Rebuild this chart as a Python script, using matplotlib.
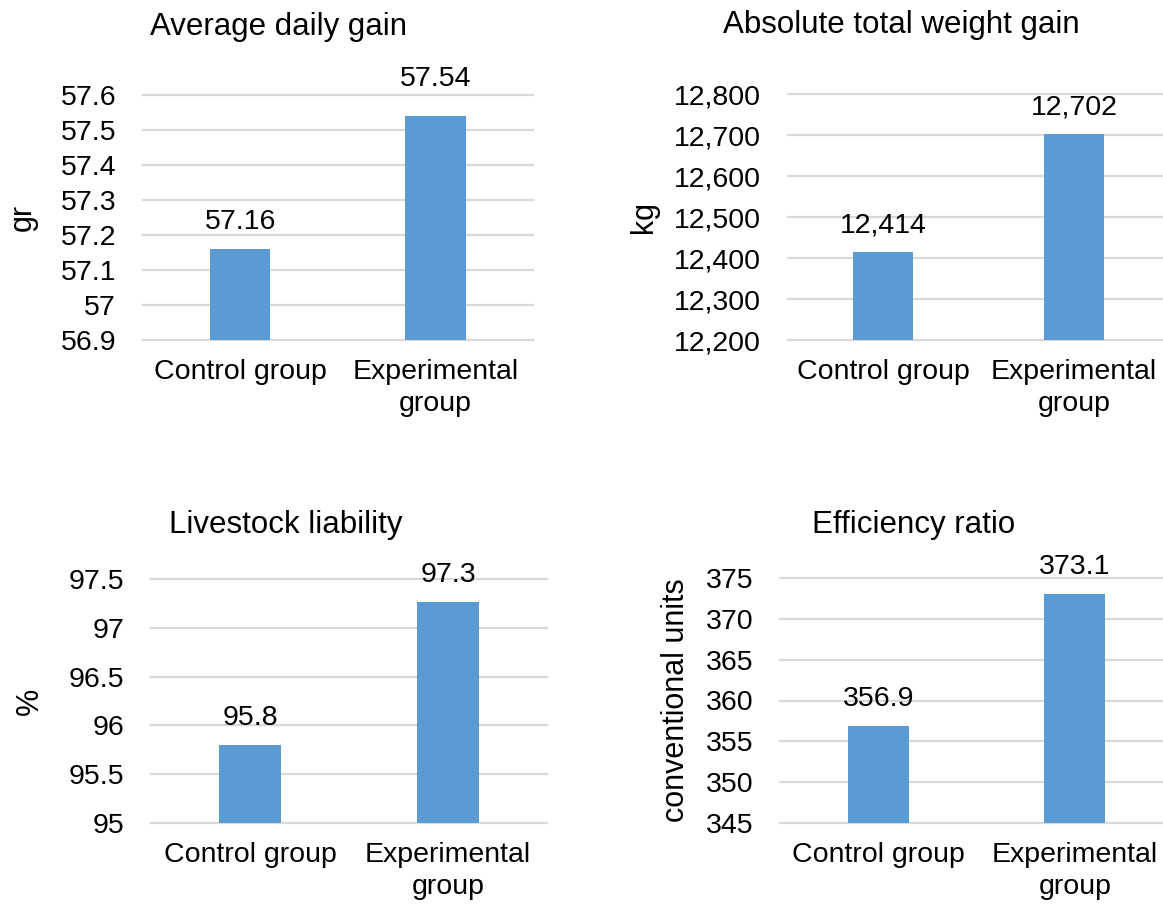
import matplotlib
matplotlib.use('Agg')
import matplotlib.pyplot as plt
from matplotlib.ticker import FuncFormatter

plt.rcParams['font.family'] = ['Liberation Sans', 'DejaVu Sans']

W, H = 1163, 907

groups = ['Control group', 'Experimental\ngroup']
titles = ['Average daily gain', 'Absolute total weight gain',
          'Livestock liability', 'Efficiency ratio']
ylabels = ['gr', 'kg', '%', 'conventional units']
control = [57.16, 12414, 95.8, 356.9]
experimental = [57.54, 12702, 97.26, 373.1]
value_labels = [['57.16', '57.54'], ['12,414', '12,702'],
                ['95.8', '97.3'], ['356.9', '373.1']]
y_min = [56.9, 12200, 95, 345]
y_max = [57.6, 12800, 97.5, 375]
y_step = [0.1, 100, 0.5, 5]

# panel boxes in pixels: left, right, top, bottom
boxes = [(142.5, 533, 94.7, 340), (787.5, 1169.5, 94.3, 340),
         (151, 547, 578.7, 823.3), (780, 1173, 578, 823)]
title_pos = [(278.6, 35), (901.5, 33.3), (286, 533.3), (913.6, 533.3)]
ylabel_x = [31, 652, 37.5, 684]

bar_color = '#5B9BD5'
grid_color = '#D9D9D9'

fig = plt.figure(figsize=(W / 100, H / 100), dpi=100)

for i in range(4):
    l, r, t, b = boxes[i]
    ax = fig.add_axes([l / W, 1 - b / H, (r - l) / W, (b - t) / H])
    vals = [control[i], experimental[i]]
    bars = ax.bar([0, 1], vals, width=0.31, color=bar_color, zorder=3)
    ax.set_xlim(-0.5, 1.5)
    ax.set_ylim(y_min[i], y_max[i])
    n = int(round((y_max[i] - y_min[i]) / y_step[i]))
    ax.set_yticks([y_min[i] + k * y_step[i] for k in range(n + 1)])
    if i == 1:
        ax.yaxis.set_major_formatter(FuncFormatter(lambda v, p: f'{v:,.0f}'))
    else:
        ax.yaxis.set_major_formatter(FuncFormatter(lambda v, p: f'{round(v, 2):g}'))
    ax.set_xticks([0, 1])
    ax.set_xticklabels(groups, fontsize=20.5, linespacing=1.3)
    ax.tick_params(axis='y', length=0, pad=19, labelsize=20.5)
    ax.tick_params(axis='x', length=0, pad=13.5)
    for s in ax.spines.values():
        s.set_visible(False)
    ax.yaxis.grid(True, color=grid_color, linewidth=1.6)
    for gl in ax.get_ygridlines():
        gl.set_clip_on(False)
    ax.set_axisbelow(True)

    for j, bar in enumerate(bars):
        off = 21.6 if (i == 0 and j == 1) else 14.4
        ax.annotate(value_labels[i][j], (bar.get_x() + bar.get_width() / 2, vals[j]),
                    xytext=(0, off), textcoords='offset points',
                    ha='center', va='baseline', fontsize=20.5, annotation_clip=False)

    tx, ty = title_pos[i]
    fig.text(tx / W, 1 - ty / H, titles[i], ha='center', va='baseline', fontsize=22.5)
    fig.text(ylabel_x[i] / W, 1 - ((t + b) / 2) / H, ylabels[i], rotation=90,
             rotation_mode='anchor', ha='center', va='baseline', fontsize=22)

fig.savefig('out.png', dpi=100)
